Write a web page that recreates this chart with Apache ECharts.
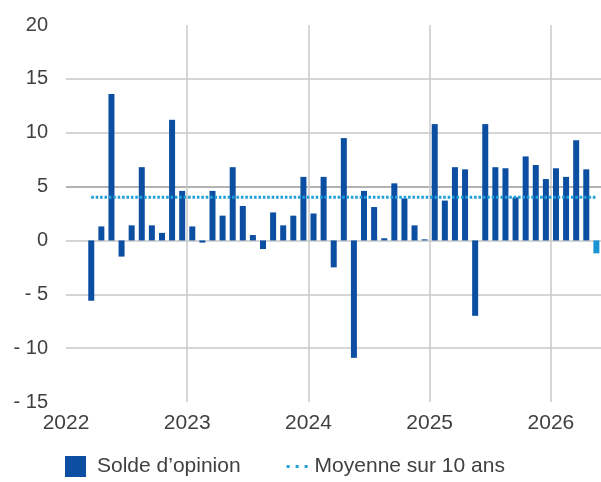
<!DOCTYPE html>
<html>
<head>
<meta charset="utf-8">
<script src="https://cdn.jsdelivr.net/npm/echarts@6/dist/echarts.min.js"></script>
<style>html,body{margin:0;padding:0;background:#fff}#c{width:601px;height:482px}</style>
</head>
<body>
<div id="c"></div>
<script>
// Monthly categories (YYYY-MM)
var months = [
  '2022-03','2022-04','2022-05','2022-06','2022-07','2022-08','2022-09','2022-10','2022-11','2022-12',
  '2023-01','2023-02','2023-03','2023-04','2023-05','2023-06','2023-07','2023-08','2023-09','2023-10','2023-11','2023-12',
  '2024-01','2024-02','2024-03','2024-04','2024-05','2024-06','2024-07','2024-08','2024-09','2024-10','2024-11','2024-12',
  '2025-01','2025-02','2025-03','2025-04','2025-05','2025-06','2025-07','2025-08','2025-09','2025-10','2025-11','2025-12',
  '2026-01','2026-02','2026-03','2026-04','2026-05'
];
// Solde d'opinion
var solde = [
  -5.6, 1.3, 13.6, -1.5, 1.4, 6.8, 1.4, 0.7, 11.2, 4.6,
  1.3, -0.2, 4.6, 2.3, 6.8, 3.2, 0.5, -0.8, 2.6, 1.4, 2.3, 5.9,
  2.5, 5.9, -2.5, 9.5, -10.9, 4.6, 3.1, 0.2, 5.3, 3.9, 1.4, 0.1,
  10.8, 3.7, 6.8, 6.6, -7.0, 10.8, 6.8, 6.7, 4.0, 7.8, 7.0, 5.7,
  6.7, 5.9, 9.3, 6.6, -1.2
];
// Moyenne sur 10 ans
var moyenne = 4.0;
var yearTicks = [2022, 2023, 2024, 2025, 2026];
var seriesNames = ['Solde d\u2019opinion', 'Moyenne sur 10 ans'];

var FONT = "'Liberation Sans', Arial, sans-serif";
var DARK = '#0b4ea2', LIGHT = '#1a93d3', AVG = '#1fa0d8';

function monthX(m) {
  var p = m.split('-');
  return +p[0] + (+p[1] - 0.5) / 12;
}
var lastIdx = solde.length - 1;
var barData = solde.map(function (v, i) {
  var d = { value: [monthX(months[i]), v] };
  if (i === lastIdx) d.itemStyle = { color: LIGHT };
  return d;
});
var avgData = [[monthX(months[0]), moyenne], [monthX(months[lastIdx]), moyenne]];

var chart = echarts.init(document.getElementById('c'), null, { renderer: 'canvas' });
chart.setOption({
  animation: false,
  textStyle: { fontFamily: FONT },
  grid: { left: 66, right: 0, top: 25, bottom: 80, containLabel: false },
  xAxis: {
    type: 'value',
    min: yearTicks[0],
    max: yearTicks[0] + 535 / 121.23,
    interval: 1,
    axisLine: { show: false },
    axisTick: { show: false },
    axisLabel: {
      color: '#404040', fontSize: 21, fontFamily: FONT, margin: 11,
      showMaxLabel: false,
      formatter: function (v) { return yearTicks.indexOf(v) >= 0 ? String(v) : ''; }
    },
    splitLine: { show: true, showMinLine: false, showMaxLine: false, lineStyle: { color: '#c8c8c8', width: 1.5 } }
  },
  yAxis: {
    type: 'value',
    min: -15, max: 20, interval: 5,
    axisLine: { show: false },
    axisTick: { show: false },
    axisLabel: {
      color: '#404040', fontSize: 20, fontFamily: FONT, margin: 18,
      formatter: function (v) { return v < 0 ? '- ' + Math.abs(v) : String(v); }
    },
    splitLine: {
      show: true, showMinLine: false, showMaxLine: false,
      lineStyle: { color: ['#c8c8c8', '#c8c8c8', '#c8c8c8', '#9a9a9a', '#c8c8c8', '#c8c8c8', '#c8c8c8', '#c8c8c8'], width: 1.5 }
    }
  },
  legend: {
    left: 60, top: 451,
    itemWidth: 21, itemHeight: 21, itemGap: 46,
    textStyle: { color: '#404040', fontSize: 21, fontFamily: FONT },
    data: [
      { name: seriesNames[0], icon: 'rect', textStyle: { padding: [0, 0, 0, 6] } },
      { name: seriesNames[1], icon: 'path://M0,0h3v3h-3z M9,0h3v3h-3z M18,0h3v3h-3z',
        itemStyle: { color: AVG }, textStyle: { padding: [0, 0, 0, 2] } }
    ]
  },
  series: [
    {
      name: seriesNames[0], type: 'bar', barWidth: 6,
      itemStyle: { color: DARK },
      data: barData, z: 2
    },
    {
      name: seriesNames[1], type: 'line', showSymbol: false, symbol: 'none',
      lineStyle: { color: AVG, width: 3, type: [2.6, 1.8] },
      itemStyle: { color: AVG },
      data: avgData, z: 5
    }
  ]
});
</script>
</body>
</html>
